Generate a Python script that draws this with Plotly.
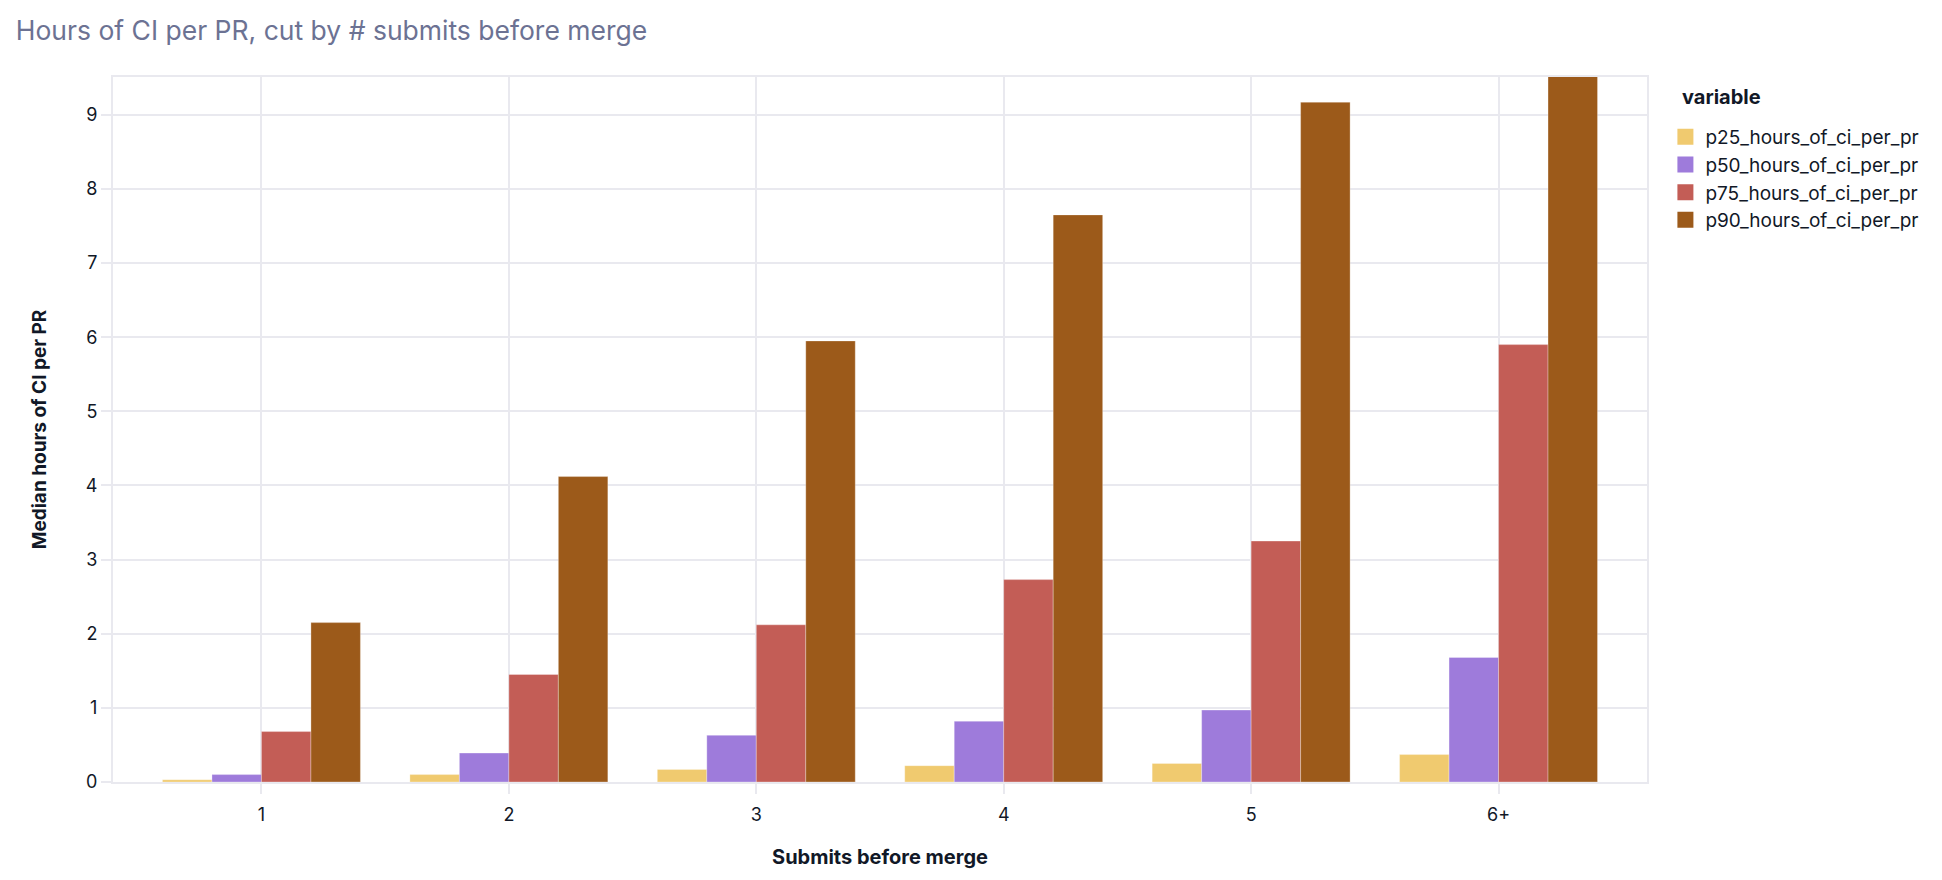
import plotly.graph_objects as go

categories = ["1", "2", "3", "4", "5", "6+"]
series_names = ["p25_hours_of_ci_per_pr", "p50_hours_of_ci_per_pr",
                "p75_hours_of_ci_per_pr", "p90_hours_of_ci_per_pr"]
p25 = [0.03, 0.10, 0.17, 0.22, 0.25, 0.37]
p50 = [0.10, 0.39, 0.63, 0.82, 0.97, 1.68]
p75 = [0.68, 1.45, 2.12, 2.73, 3.25, 5.90]
p90 = [2.15, 4.12, 5.95, 7.65, 9.17, 9.55]
colors = ["#F0CA6F", "#9E7BDB", "#C35D56", "#9C5A1A"]

fig = go.Figure()
for name, vals, col in zip(series_names, [p25, p50, p75, p90], colors):
    fig.add_trace(go.Bar(
        x=categories, y=vals, name=name, legendgroup=name, showlegend=False,
        marker=dict(color=col, line=dict(color="rgba(255,255,255,0.6)", width=0.5)),
    ))
    # legend swatch (larger square than the default bar swatch)
    fig.add_trace(go.Scatter(
        x=[None], y=[None], name=name, legendgroup=name, mode="markers",
        marker=dict(symbol="square", size=16, color=col, line=dict(width=0)),
        hoverinfo="skip",
    ))

grid = "#E9E9EF"
fig.update_layout(
    width=1942, height=880,
    barmode="group", bargap=0.2,
    paper_bgcolor="white", plot_bgcolor="white",
    font=dict(family="Inter, Open Sans, sans-serif", size=18, color="#111827"),
    title=dict(text="Hours of CI per PR, cut by # submits before merge",
               x=0.004, xanchor="left", y=0.974, yanchor="middle",
               font=dict(size=26.5, color="#6C7293")),
    margin=dict(l=105, r=303, t=69, b=106),
    legend=dict(x=1.012, y=0.942, xanchor="left", yanchor="top",
                font=dict(size=19), tracegroupgap=0, itemsizing="trace"),
    annotations=[dict(text="<b>variable</b>", xref="paper", yref="paper",
                      x=1.0215, y=0.9716, xanchor="left", yanchor="middle",
                      showarrow=False, font=dict(size=20, color="#111827"))],
    xaxis=dict(title=dict(text="<b>Submits before merge</b>", font=dict(size=20), standoff=26),
               range=[-0.6, 5.6], showgrid=True, gridcolor=grid, gridwidth=1.5,
               showline=True, linecolor=grid, linewidth=2, mirror=True,
               ticks="outside", tickcolor=grid, ticklen=10, tickwidth=1.5,
               ticklabelstandoff=5, tickfont=dict(size=18)),
    yaxis=dict(title=dict(text="<b>Median hours of CI per PR</b>", font=dict(size=19), standoff=34),
               range=[0, 9.51], dtick=1, showgrid=True, gridcolor=grid, gridwidth=1.5,
               showline=True, linecolor=grid, linewidth=2, mirror=True,
               ticks="outside", tickcolor=grid, ticklen=10, tickwidth=1.5,
               zeroline=False, tickfont=dict(size=18)),
)

fig.write_html("out.html")
